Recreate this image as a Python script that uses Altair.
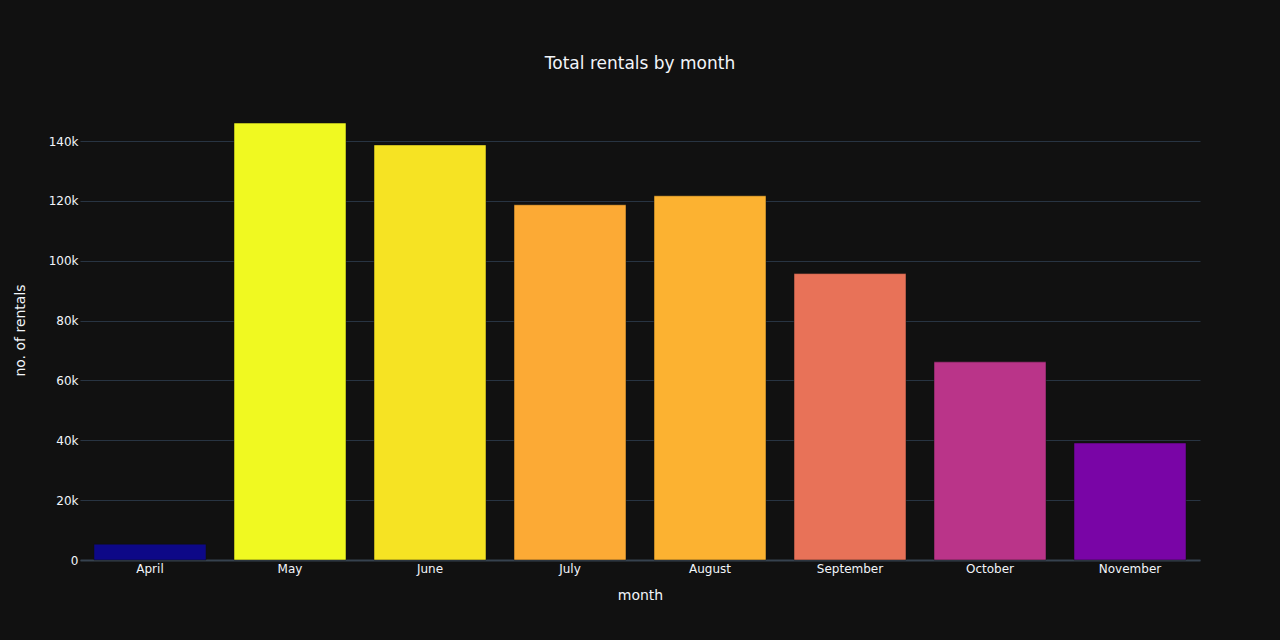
import altair as alt
import pandas as pd

months = ["April", "May", "June", "July", "August", "September", "October", "November"]
rentals = [5300, 146000, 138700, 118700, 121700, 95700, 66200, 39100]

plasma = ["#0d0887", "#46039f", "#7201a8", "#9c179e", "#bd3786",
          "#d8576b", "#ed7953", "#fb9f3a", "#fdca26", "#f0f921"]

df = pd.DataFrame({"month": months, "rentals": rentals})

lo, hi = min(rentals), max(rentals)
stops = [lo + (hi - lo) * i / (len(plasma) - 1) for i in range(len(plasma))]

FONT = "DejaVu Sans"
TXT = "#f2f5fa"

bars = alt.Chart(df).mark_bar(stroke="#111111", strokeWidth=0.5).encode(
    x=alt.X("month:N", sort=months, title="month",
            scale=alt.Scale(paddingInner=0.2, paddingOuter=0.1),
            axis=alt.Axis(labelAngle=0, ticks=False, labelPadding=3, labelFontSize=12,
                          labelColor=TXT, labelFont=FONT, titleFont=FONT, titleFontSize=14,
                          titleColor=TXT, titleFontWeight="normal", titleY=28,
                          domain=True, domainColor="#36424f", domainWidth=2, grid=False)),
    y=alt.Y("rentals:Q", title="no. of rentals",
            scale=alt.Scale(domain=[0, 153700], nice=False),
            axis=alt.Axis(values=[0, 20000, 40000, 60000, 80000, 100000, 120000, 140000],
                          labelExpr="datum.value == 0 ? '0' : format(datum.value / 1000, 'd') + 'k'",
                          ticks=False, labelPadding=2, domain=False,
                          gridColor="#283442", gridWidth=1, labelFontSize=12,
                          labelColor=TXT, labelFont=FONT, titleFont=FONT, titleFontSize=14,
                          titleColor=TXT, titleFontWeight="normal", titleX=-53, titleY=230)),
    color=alt.Color("rentals:Q", legend=None,
                    scale=alt.Scale(domain=stops, range=plasma, interpolate="rgb")),
)

chart = bars.properties(
    width=1120, height=460,
    title=alt.TitleParams("Total rentals by month", font=FONT, fontSize=17,
                          fontWeight="normal", color=TXT, anchor="middle", offset=27),
    background="#111111",
    padding={"left": 80, "top": 100, "right": 80, "bottom": 80},
    autosize=alt.AutoSizeParams(type="none"),
).configure_view(stroke=None)

chart.save("out.html", embed_options={"renderer": "svg", "actions": False})
